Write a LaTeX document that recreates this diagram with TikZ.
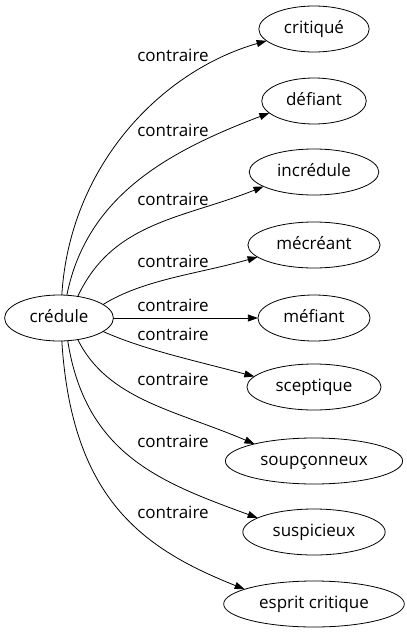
\documentclass[tikz,border=0pt]{standalone}
\usepackage{fontspec}
\setmainfont{Open Sans}
\usetikzlibrary{positioning, shapes, arrows.meta}

\begin{document}
\begin{tikzpicture}[x=1pt, y=-1pt,
      word/.style={ellipse, draw, line width=0.8pt, minimum height=46pt, inner xsep=9pt, inner ysep=1pt, outer sep=0pt, text height=12pt, text depth=4pt, font=\fontsize{17}{20}\selectfont},
      lbl/.style={inner sep=0pt, font=\fontsize{17}{20}\selectfont},
      arrow/.style={-{Triangle[length=10pt,width=7pt]}, line width=0.8pt}
    ]
      \useasboundingbox (0,0) rectangle (407,635);

      % Words
      \node[word] (credule) at (59,318) {crédule};
      \node[word] (critique) at (314,29) {critiqué};
      \node[word] (defiant) at (314,101) {défiant};
      \node[word] (incredule) at (314,172) {incrédule};
      \node[word] (mecreant) at (314,245) {mécréant};
      \node[word] (mefiant) at (314,318) {méfiant};
      \node[word] (sceptique) at (314,387) {sceptique};
      \node[word] (soupconneux) at (314,461) {soupçonneux};
      \node[word] (suspicieux) at (314,532) {suspicieux};
      \node[word] (esprit) at (314,604) {esprit critique};

      % Labels
      \foreach \y [count=\i] in {55,130,199,261,305,334,379,441,512}
        \node[lbl] (lab\i) at (173,\y) {contraire};

      % Arrows
      \draw[arrow] (credule.83) .. controls +(8,-130) and +(-105,30) .. (critique.194);
      \draw[arrow] (credule.71) .. controls +(20,-100) and +(-100,38) .. (defiant.195);
      \draw[arrow] (credule.49) .. controls +(35,-75) and +(-80,32) .. (incredule.196);
      \draw[arrow] (credule.17) .. controls +(40,-25) and +(-60,17) .. (mecreant.192);
      \draw[arrow] (credule.east) -- (mefiant.west);
      \draw[arrow] (credule.-17) .. controls +(40,18) and +(-60,-16) .. (sceptique.170);
      \draw[arrow] (credule.-49) .. controls +(30,60) and +(-80,-34) .. (soupconneux.164);
      \draw[arrow] (credule.-69) .. controls +(18,115) and +(-95,-35) .. (suspicieux.166);
      \draw[arrow] (credule.-83) .. controls +(10,160) and +(-100,-40) .. (esprit.168);
    \end{tikzpicture}
\end{document}
